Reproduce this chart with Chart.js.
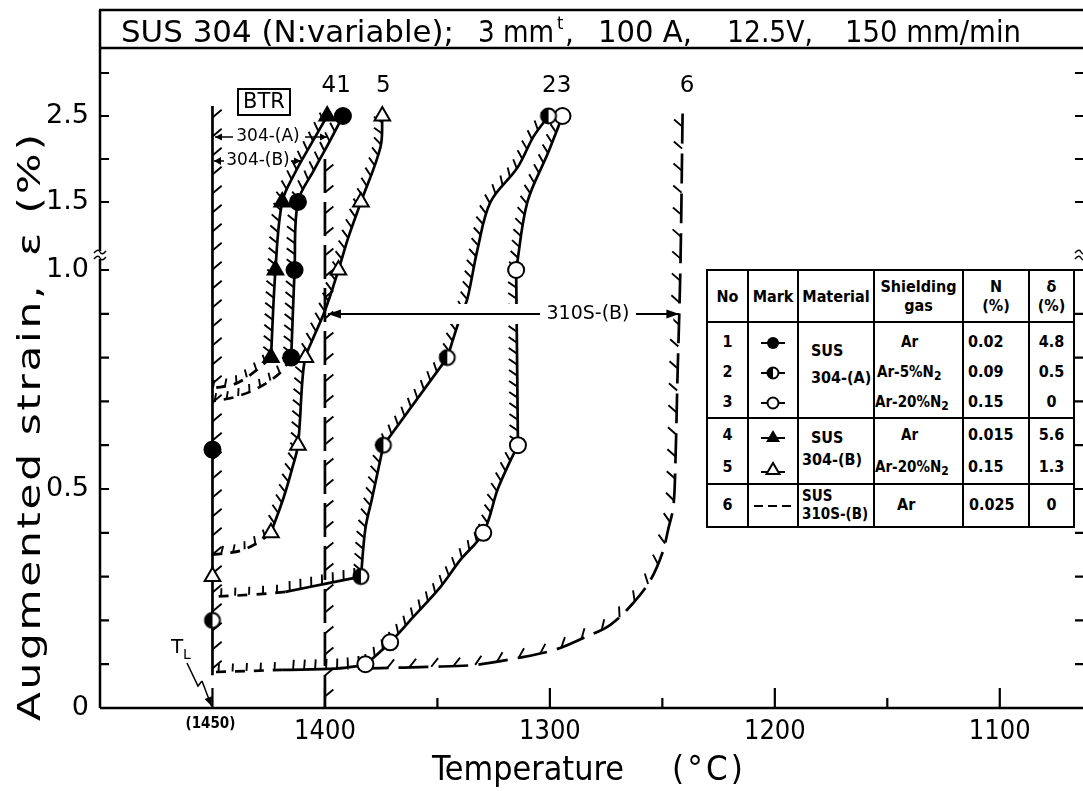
<!DOCTYPE html>
<html><head><meta charset="utf-8">
<script src="https://cdn.jsdelivr.net/npm/chart.js@4.4.1/dist/chart.umd.min.js"></script>
<style>
html,body{margin:0;padding:0;background:#fff;}
#wrap{position:relative;width:1083px;height:791px;overflow:hidden;background:#fff;}
#c{position:absolute;left:0;top:0;}
#legend{position:absolute;left:706px;top:269px;width:367px;border-collapse:collapse;table-layout:fixed;
 font-family:"DejaVu Sans Condensed","DejaVu Sans",sans-serif;font-weight:bold;font-size:16px;color:#000;background:#fff;}
#legend td,#legend th{border:2px solid #000;padding:0;vertical-align:top;font-weight:bold;overflow:hidden;white-space:nowrap;}
#legend th{vertical-align:middle;text-align:center;line-height:19px;}
#legend .l{display:block;}
#legend sub{font-size:12px;vertical-align:-3px;line-height:0;}
.c{text-align:center;}
</style></head>
<body>
<div id="wrap">
<canvas id="c" width="1083" height="791"></canvas>
<table id="legend">
<colgroup><col style="width:41px"><col style="width:50px"><col style="width:76px"><col style="width:89px"><col style="width:66px"><col style="width:45px"></colgroup>
<tr style="height:52px"><th>No</th><th>Mark</th><th>Material</th><th>Shielding<br>gas</th><th>N<br>(%)</th><th>δ<br>(%)</th></tr>
<tr style="height:96px">
 <td class="c" style="line-height:30px;padding-top:4px"><span class="l">1</span><span class="l">2</span><span class="l">3</span></td>
 <td class="c" style="line-height:30px;padding-top:4px">
  <span class="l"><svg width="30" height="16" style="vertical-align:middle"><line x1="3" y1="8" x2="27" y2="8" stroke="#000" stroke-width="2"/><circle cx="15" cy="8" r="6" fill="#000"/></svg></span>
  <span class="l"><svg width="30" height="16" style="vertical-align:middle"><line x1="3" y1="8" x2="27" y2="8" stroke="#000" stroke-width="2"/><circle cx="15" cy="8" r="5.5" fill="#fff" stroke="#000" stroke-width="2"/><path d="M15 2.5 A5.5 5.5 0 0 0 15 13.5 Z" fill="#000"/></svg></span>
  <span class="l"><svg width="30" height="16" style="vertical-align:middle"><line x1="3" y1="8" x2="27" y2="8" stroke="#000" stroke-width="2"/><circle cx="15" cy="8" r="5.5" fill="#fff" stroke="#000" stroke-width="2"/></svg></span>
 </td>
 <td style="padding-left:12px;line-height:27px;padding-top:14px"><span class="l">SUS</span><span class="l">304-(A)</span></td>
 <td style="line-height:30px;padding-top:4px;font-size:15px"><span class="l" style="padding-left:26px">Ar</span><span class="l" style="padding-left:2px">Ar-5%N<sub>2</sub></span><span class="l">Ar-20%N<sub>2</sub></span></td>
 <td style="line-height:30px;padding-top:4px;padding-left:4px"><span class="l">0.02</span><span class="l">0.09</span><span class="l">0.15</span></td>
 <td class="c" style="line-height:30px;padding-top:4px"><span class="l">4.8</span><span class="l">0.5</span><span class="l">0</span></td>
</tr>
<tr style="height:63px">
 <td class="c" style="line-height:32px"><span class="l">4</span><span class="l">5</span></td>
 <td class="c" style="line-height:32px">
  <span class="l"><svg width="30" height="16" style="vertical-align:middle"><line x1="3" y1="10" x2="27" y2="10" stroke="#000" stroke-width="2"/><polygon points="15,2 22,14 8,14" fill="#000"/></svg></span>
  <span class="l"><svg width="30" height="16" style="vertical-align:middle"><line x1="3" y1="12" x2="27" y2="12" stroke="#000" stroke-width="2"/><polygon points="15,3 21.5,14 8.5,14" fill="#fff" stroke="#000" stroke-width="2"/></svg></span>
 </td>
 <td style="padding-left:12px;line-height:22px;padding-top:8px"><span class="l">SUS</span><span class="l" style="margin-left:-9px">304-(B)</span></td>
 <td style="line-height:32px;font-size:15px"><span class="l" style="padding-left:26px">Ar</span><span class="l">Ar-20%N<sub>2</sub></span></td>
 <td style="line-height:32px;padding-left:4px"><span class="l">0.015</span><span class="l">0.15</span></td>
 <td class="c" style="line-height:32px"><span class="l">5.6</span><span class="l">1.3</span></td>
</tr>
<tr style="height:43px">
 <td class="c" style="line-height:40px">6</td>
 <td class="c" style="line-height:40px"><svg width="40" height="16" style="vertical-align:middle"><line x1="1" y1="8" x2="39" y2="8" stroke="#000" stroke-width="2" stroke-dasharray="9,5"/></svg></td>
 <td style="padding-left:3px;line-height:18px;padding-top:2px;font-size:15px"><span class="l">SUS</span><span class="l">310S-(B)</span></td>
 <td style="line-height:40px;padding-left:22px">Ar</td>
 <td style="line-height:40px;padding-left:5px">0.025</td>
 <td class="c" style="line-height:40px">0</td>
</tr>
</table>
</div>
<script>
// ---------------- axis ticks ----------------
const tempMajor = [1450, 1400, 1300, 1200, 1100];
const tempLabels = ['(1450)', '1400', '1300', '1200', '1100'];
const tempMinor = [1350, 1250, 1150];
const strainMajor = [0, 0.5, 1.0, 1.5, 2.5];
const strainLabels = ['0', '0.5', '1.0', '1.5', '2.5'];
const strainMinor = [0.1, 0.2, 0.3, 0.4, 0.6, 0.7, 0.8, 0.9, 2.0, 3.0];

// ---------------- markers (temperature °C, strain %) ----------------
const m1T = [1392, 1412, 1413.5, 1415, 1450];            // ● SUS304-(A) Ar
const m1S = [2.5, 1.5, 1.0, 0.8, 0.59];
const m2T = [1300.6, 1345.6, 1374, 1384, 1450];          // ◐ SUS304-(A) Ar-5%N2
const m2S = [2.5, 0.8, 0.6, 0.3, 0.2];
const m3T = [1294.4, 1315, 1314.2, 1329.6, 1371, 1382];  // ○ SUS304-(A) Ar-20%N2
const m3S = [2.5, 1.0, 0.6, 0.4, 0.15, 0.1];
const m4T = [1399, 1419, 1422, 1424];                    // ▲ SUS304-(B) Ar
const m4S = [2.5, 1.5, 1.0, 0.8];
const m5T = [1374.5, 1384, 1394, 1408.7, 1412, 1424, 1450]; // △ SUS304-(B) Ar-20%N2
const m5S = [2.5, 1.5, 1.0, 0.8, 0.6, 0.4, 0.3];

// ---------------- BTR boundary curves ----------------
const tlT = [1450, 1450];  const tlS = [2.615, 0.075];
const c1T = [1392, 1398.2, 1404.9, 1412, 1413.5, 1415];   const c1S = [2.5, 2.19, 1.87, 1.5, 1.0, 0.8];
const c1dT = [1415, 1420, 1430, 1440, 1450];              const c1dS = [0.8, 0.765, 0.73, 0.71, 0.70];
const c4T = [1399, 1405.8, 1413.3, 1419, 1422, 1424];     const c4S = [2.5, 2.19, 1.84, 1.5, 1.0, 0.8];
const c4dT = [1424, 1432, 1440, 1450];                    const c4dS = [0.8, 0.765, 0.74, 0.73];
const c5T = [1374.5, 1375.3, 1384, 1389.6, 1394, 1399.8, 1405.6, 1408.7, 1410, 1412, 1414.4, 1418.4, 1424];
const c5S = [2.5, 2.14, 1.5, 1.24, 1.0, 0.91, 0.84, 0.8, 0.75, 0.6, 0.55, 0.48, 0.4];
const c5dT = [1424, 1430, 1437, 1443, 1450];              const c5dS = [0.4, 0.377, 0.36, 0.354, 0.35];
const c2aT = [1300.6, 1307.3, 1314.4, 1326.4, 1332.2, 1336.7, 1339.8, 1345.6];
const c2aS = [2.5, 2.26, 1.9, 1.5, 1.15, 0.934, 0.893, 0.8];
const c2bT = [1345.6, 1374];                              const c2bS = [0.8, 0.6];
const c2cT = [1374, 1379, 1382, 1384];                    const c2cS = [0.6, 0.48, 0.41, 0.3];
const c2dT = [1384, 1398.4, 1417.6];                      const c2dS = [0.3, 0.285, 0.265];
const c2eT = [1417.6, 1432, 1450];                        const c2eS = [0.265, 0.259, 0.254];
const c3aT = [1294.4, 1301, 1310, 1315];                  const c3aS = [2.5, 2.06, 1.5, 1.0];
const c3bT = [1315, 1314.2];                              const c3bS = [1.0, 0.6];
const c3cT = [1314.2, 1318.9, 1323.3, 1329.6, 1339.8, 1348.7, 1360.7, 1371, 1382];
const c3cS = [0.6, 0.55, 0.498, 0.4, 0.338, 0.276, 0.208, 0.15, 0.098];
const c3dT = [1382, 1395, 1418.7];                        const c3dS = [0.098, 0.09, 0.087];
const c3eT = [1418.7, 1450];                              const c3eS = [0.087, 0.082];
const v6T = [1400, 1400];                                 const v6S = [2.0, 0];
const c6T = [1241, 1242, 1243.3, 1244.2, 1245.1, 1247.3, 1250, 1255.3, 1262.9, 1273.1, 1285.1, 1298.4, 1314.4, 1334, 1354.4, 1375.3, 1390];
const c6S = [2.53, 1.0, 0.75, 0.56, 0.46, 0.41, 0.354, 0.292, 0.24, 0.19, 0.16, 0.132, 0.114, 0.098, 0.094, 0.091, 0.09];

// broken strain axis: 0–1.0 linear, break, 1.5 upward compressed
function yPos(s) {
  if (s <= 1.0) return s;
  if (s <= 1.5) return 1.0 + (s - 1.0) * 0.3106;
  return 1.1553 + (s - 1.5) * 0.1963;
}
const Y_MAX = 660 / 438;

const pts = (T, S) => T.map((t, i) => ({x: t, y: yPos(S[i])}));

const halfCanvas = (() => {
  const c = document.createElement('canvas'); c.width = 22; c.height = 22;
  const g = c.getContext('2d');
  g.beginPath(); g.arc(11, 11, 7.5, 0, Math.PI * 2); g.fillStyle = '#fff'; g.fill();
  g.beginPath(); g.moveTo(11, 11); g.arc(11, 11, 7.5, Math.PI / 2, Math.PI * 1.5); g.closePath(); g.fillStyle = '#000'; g.fill();
  g.beginPath(); g.arc(11, 11, 7.5, 0, Math.PI * 2); g.lineWidth = 2; g.strokeStyle = '#000'; g.stroke();
  return c;
})();

function markers(T, S, style, fill, r) {
  return {data: pts(T, S), showLine: false, pointStyle: style, pointRadius: r, pointBorderWidth: 2,
    pointBackgroundColor: fill, pointBorderColor: '#000', borderWidth: 0};
}
const SOLID_H = {side: 1, spacing: 11, len: 10, tilt: 35};
const DASH_H = {side: 1, spacing: 12, len: 8, tilt: 20};
function curve(T, S, hatch, dash, tension) {
  return {data: pts(T, S), showLine: true, borderColor: '#000', borderWidth: 2.7, pointRadius: 0,
    tension: tension === undefined ? 0.35 : tension, borderDash: dash || [], hatch: hatch, fill: false};
}

const datasets = [
  markers(m1T, m1S, 'circle', '#000', 8),
  markers(m2T, m2S, halfCanvas, '#fff', 8),
  markers(m3T, m3S, 'circle', '#fff', 8),
  markers(m4T, m4S, 'triangle', '#000', 9),
  markers(m5T, m5S, 'triangle', '#fff', 9),
  curve(tlT, tlS, {side: -1, spacing: 19, len: 12, tilt: 40}, null, 0),
  curve(c1T, c1S, SOLID_H),
  curve(c1dT, c1dS, DASH_H, [10, 8]),
  curve(c4T, c4S, SOLID_H),
  curve(c4dT, c4dS, DASH_H, [10, 8]),
  curve(c5T, c5S, SOLID_H),
  curve(c5dT, c5dS, DASH_H, [10, 8]),
  curve(c2aT, c2aS, SOLID_H),
  curve(c2bT, c2bS, SOLID_H, null, 0),
  curve(c2cT, c2cS, SOLID_H),
  curve(c2dT, c2dS, {side: 1, spacing: 11, len: 10, tilt: 10}),
  curve(c2eT, c2eS, {side: 1, spacing: 14, len: 8, tilt: 5}, [10, 9]),
  curve(c3aT, c3aS, SOLID_H),
  curve(c3bT, c3bS, SOLID_H, null, 0),
  curve(c3cT, c3cS, SOLID_H),
  curve(c3dT, c3dS, {side: 1, spacing: 11, len: 10, tilt: 5}),
  curve(c3eT, c3eS, {side: 1, spacing: 14, len: 8, tilt: 5}, [10, 9]),
  curve(v6T, v6S, {side: -1, spacing: 21, len: 11, tilt: 40}, [34, 9], 0),
  curve(c6T, c6S, {side: 1, spacing: 22, len: 11, tilt: 40}, [30, 10]),
];

const hatchPlugin = {
  id: 'hatch',
  afterDatasetDraw(chart, args) {
    const ds = chart.data.datasets[args.index];
    const h = ds.hatch; if (!h) return;
    const meta = args.meta, P = meta.data;
    if (meta.dataset && typeof meta.dataset.updateControlPoints === 'function') {
      try { meta.dataset.updateControlPoints(chart.chartArea, 'x'); } catch (e) {}
    }
    const poly = [];
    for (let i = 0; i < P.length - 1; i++) {
      const a = P[i], b = P[i + 1];
      const c1x = (a.cp2x !== undefined && ds.tension) ? a.cp2x : a.x, c1y = (a.cp2y !== undefined && ds.tension) ? a.cp2y : a.y;
      const c2x = (b.cp1x !== undefined && ds.tension) ? b.cp1x : b.x, c2y = (b.cp1y !== undefined && ds.tension) ? b.cp1y : b.y;
      for (let k = 0; k < 30; k++) {
        const t = k / 30, m = 1 - t;
        poly.push([m*m*m*a.x + 3*m*m*t*c1x + 3*m*t*t*c2x + t*t*t*b.x, m*m*m*a.y + 3*m*m*t*c1y + 3*m*t*t*c2y + t*t*t*b.y]);
      }
    }
    const L = P[P.length - 1]; poly.push([L.x, L.y]);
    const ctx = chart.ctx;
    ctx.save(); ctx.strokeStyle = '#000'; ctx.lineWidth = 1.9; ctx.setLineDash([]); ctx.beginPath();
    const ang = h.tilt * Math.PI / 180;
    let dist = h.spacing * 0.6;
    for (let i = 0; i < poly.length - 1; i++) {
      const [x0, y0] = poly[i], [x1, y1] = poly[i + 1];
      const seg = Math.hypot(x1 - x0, y1 - y0); if (seg < 1e-6) continue;
      const tx = (x1 - x0) / seg, ty = (y1 - y0) / seg;
      let pos = dist;
      while (pos <= seg) {
        const px = x0 + tx * pos, py = y0 + ty * pos;
        const nx = -ty * h.side, ny = tx * h.side;
        const dx = nx * Math.cos(ang) - tx * Math.sin(ang), dy = ny * Math.cos(ang) - ty * Math.sin(ang);
        ctx.moveTo(px, py); ctx.lineTo(px + dx * h.len, py + dy * h.len);
        pos += h.spacing;
      }
      dist = pos - seg;
    }
    ctx.stroke(); ctx.restore();
  }
};

const COND = '"DejaVu Sans Condensed","Liberation Sans Narrow","DejaVu Sans",sans-serif';
const SANS = '"DejaVu Sans",sans-serif';

// draw text stretched horizontally to occupy width w (left aligned at x)
function fitText(ctx, text, x, y, w, spacing) {
  ctx.letterSpacing = (spacing || 0) + 'px';
  const m = ctx.measureText(text).width;
  ctx.save(); ctx.translate(x, y); ctx.scale(w / m, 1);
  ctx.textAlign = 'left'; ctx.fillText(text, 0, 0);
  ctx.restore();
  ctx.letterSpacing = '0px';
}
function arrow(ctx, x1, y1, x2, y2, hl, hw) {
  ctx.beginPath(); ctx.moveTo(x1, y1); ctx.lineTo(x2, y2); ctx.stroke();
  const a = Math.atan2(y2 - y1, x2 - x1);
  ctx.beginPath(); ctx.moveTo(x2, y2);
  ctx.lineTo(x2 - hl * Math.cos(a) + hw * Math.sin(a), y2 - hl * Math.sin(a) - hw * Math.cos(a));
  ctx.lineTo(x2 - hl * Math.cos(a) - hw * Math.sin(a), y2 - hl * Math.sin(a) + hw * Math.cos(a));
  ctx.closePath(); ctx.fill();
}

const decoPlugin = {
  id: 'deco',
  afterDraw(chart) {
    const {ctx, chartArea: A} = chart;
    const X = chart.scales.x, Y = chart.scales.y;
    const yp = s => Y.getPixelForValue(yPos(s));
    ctx.save();
    ctx.strokeStyle = '#000'; ctx.fillStyle = '#000'; ctx.setLineDash([]);
    // frame and title band
    ctx.lineWidth = 2.5;
    ctx.beginPath();
    ctx.moveTo(A.left, 10); ctx.lineTo(A.left, A.bottom);
    ctx.moveTo(A.left - 1, 10); ctx.lineTo(1083, 10);
    ctx.moveTo(A.left, A.top); ctx.lineTo(1083, A.top);
    ctx.moveTo(A.left, A.bottom); ctx.lineTo(1083, A.bottom);
    ctx.stroke();
    // x ticks (inward) and labels
    ctx.lineWidth = 2.2; ctx.beginPath();
    tempMajor.forEach(t => { const p = X.getPixelForValue(t); ctx.moveTo(p, A.bottom); ctx.lineTo(p, A.bottom - 20); });
    tempMinor.forEach(t => { const p = X.getPixelForValue(t); ctx.moveTo(p, A.bottom); ctx.lineTo(p, A.bottom - 10); });
    // y ticks left and right
    strainMajor.concat(strainMinor).forEach(s => {
      const p = yp(s); if (p < A.top + 2) return;
      ctx.moveTo(A.left, p); ctx.lineTo(A.left + 9, p);
      ctx.moveTo(1083, p); ctx.lineTo(1075, p);
    });
    ctx.stroke();
    ctx.textAlign = 'center'; ctx.textBaseline = 'top';
    tempMajor.forEach((t, i) => {
      const p = X.getPixelForValue(t);
      if (t === 1450) { ctx.font = 'bold 15px ' + COND; ctx.fillText(tempLabels[i], p - 2, A.bottom + 9); }
      else { ctx.font = '27px ' + COND; ctx.fillText(tempLabels[i], p, A.bottom + 10); }
    });
    // axis break marks
    [A.left, 1081].forEach(bx => {
      const by = Y.getPixelForValue(yPos(1.0)) - 15;
      ctx.fillStyle = '#fff'; ctx.fillRect(bx - 3, by - 4, 6, 8); ctx.fillStyle = '#000';
      ctx.lineWidth = 1.4; ctx.beginPath();
      [-3, 3].forEach(o => { ctx.moveTo(bx - 6, by + o + 1); ctx.quadraticCurveTo(bx - 2, by + o - 4, bx, by + o); ctx.quadraticCurveTo(bx + 2, by + o + 4, bx + 6, by + o - 1); });
      ctx.stroke();
    });

    // title
    ctx.textBaseline = 'alphabetic';
    ctx.font = '31px ' + COND;
    fitText(ctx, 'SUS 304 (N:variable);', 121, 42, 333);
    fitText(ctx, '3 mm', 478, 42, 76);
    ctx.font = '18px ' + COND; ctx.textAlign = 'left'; ctx.fillText('t', 557, 29);
    ctx.font = '31px ' + COND; ctx.fillText(',', 565, 42);
    fitText(ctx, '100 A,', 598, 42, 94);
    fitText(ctx, '12.5V,', 727, 42, 86);
    fitText(ctx, '150 mm/min', 845, 42, 176);

    // axis titles
    ctx.font = '32px ' + SANS; ctx.textBaseline = 'middle';
    ctx.save(); ctx.translate(32, 721); ctx.rotate(-Math.PI / 2);
    fitText(ctx, 'Augmented strain,', 0, 0, 438, 2);
    fitText(ctx, 'ε (%)', 465, 0, 125, 2);
    ctx.restore();
    ctx.font = '33px ' + COND;
    fitText(ctx, 'Temperature', 432, 771, 192);
    fitText(ctx, '(°C)', 672, 771, 74, 3);

    // curve number labels
    ctx.font = '23px ' + SANS; ctx.textAlign = 'center'; ctx.textBaseline = 'middle';
    ctx.fillText('41', X.getPixelForValue(1395), 86);
    ctx.fillText('5', X.getPixelForValue(1374), 86);
    ctx.fillText('23', X.getPixelForValue(1297), 86);
    ctx.fillText('6', X.getPixelForValue(1239), 86);

    // BTR box
    ctx.lineWidth = 2; ctx.strokeRect(238, 89, 52, 26);
    ctx.font = '21px ' + SANS; ctx.fillText('BTR', 264, 103);
    // 304-(A) / 304-(B) range arrows
    ctx.font = '17px ' + SANS; ctx.lineWidth = 1.5;
    ctx.fillText('304-(A)', 268, 137);
    arrow(ctx, 233, 137, 215, 137, 7, 3.5);
    arrow(ctx, 305, 137, 327, 137, 7, 3.5);
    ctx.fillText('304-(B)', 258, 161);
    arrow(ctx, 224, 161, 214, 161, 7, 4);
    arrow(ctx, 291, 161, 301, 161, 7, 3.5);

    // 310S-(B) range arrow
    const ay = 314;
    const xl = X.getPixelForValue(1400) + 3, xr = X.getPixelForValue(1242);
    ctx.fillStyle = '#fff';
    ctx.fillRect(xl + 18, ay - 10, 520 - xl - 8, 20);
    ctx.fillRect(543, ay - 12, xr - 550, 24);
    ctx.fillStyle = '#000';
    ctx.font = '19px ' + SANS;
    ctx.fillText('310S-(B)', 588, ay);
    ctx.lineWidth = 1.8;
    arrow(ctx, 540, ay, xl, ay, 13, 4.5);
    arrow(ctx, 636, ay, xr - 1, ay, 13, 4.5);

    // T_L label and arrow
    ctx.font = '20px ' + SANS; ctx.textAlign = 'left';
    ctx.fillText('T', 171, 648);
    ctx.font = '14px ' + SANS; ctx.fillText('L', 183, 655);
    ctx.lineWidth = 1.5;
    ctx.beginPath(); ctx.moveTo(187, 663); ctx.lineTo(198, 686); ctx.lineTo(202, 681); ctx.stroke();
    arrow(ctx, 202, 681, X.getPixelForValue(1450) - 1, A.bottom - 2, 9, 4);
    ctx.restore();
  }
};

new Chart(document.getElementById('c'), {
  type: 'line',
  data: {datasets},
  options: {
    responsive: false, animation: false, devicePixelRatio: 1,
    layout: {autoPadding: false, padding: {top: 48, right: 0, bottom: 0, left: 0}},
    plugins: {legend: {display: false}, tooltip: {enabled: false}, title: {display: false}},
    elements: {point: {hoverRadius: 0}},
    scales: {
      x: {
        type: 'linear', reverse: true, min: 1063, max: 1500,
        grid: {display: false}, border: {display: false},
        afterBuildTicks: s => { s.ticks = tempMajor.map(v => ({value: v})); },
        afterFit: s => { s.height = 83; },
        ticks: {display: false}
      },
      y: {
        type: 'linear', min: 0, max: Y_MAX,
        grid: {display: false}, border: {display: false},
        afterBuildTicks: s => { s.ticks = strainMajor.map(v => ({value: yPos(v)})); },
        afterFit: s => { s.width = 100; },
        ticks: {autoSkip: false, padding: 3, color: '#000', font: {family: SANS, size: 27},
          callback: (v, i) => strainLabels[i]}
      }
    }
  },
  plugins: [hatchPlugin, decoPlugin]
});
</script>
</body></html>
